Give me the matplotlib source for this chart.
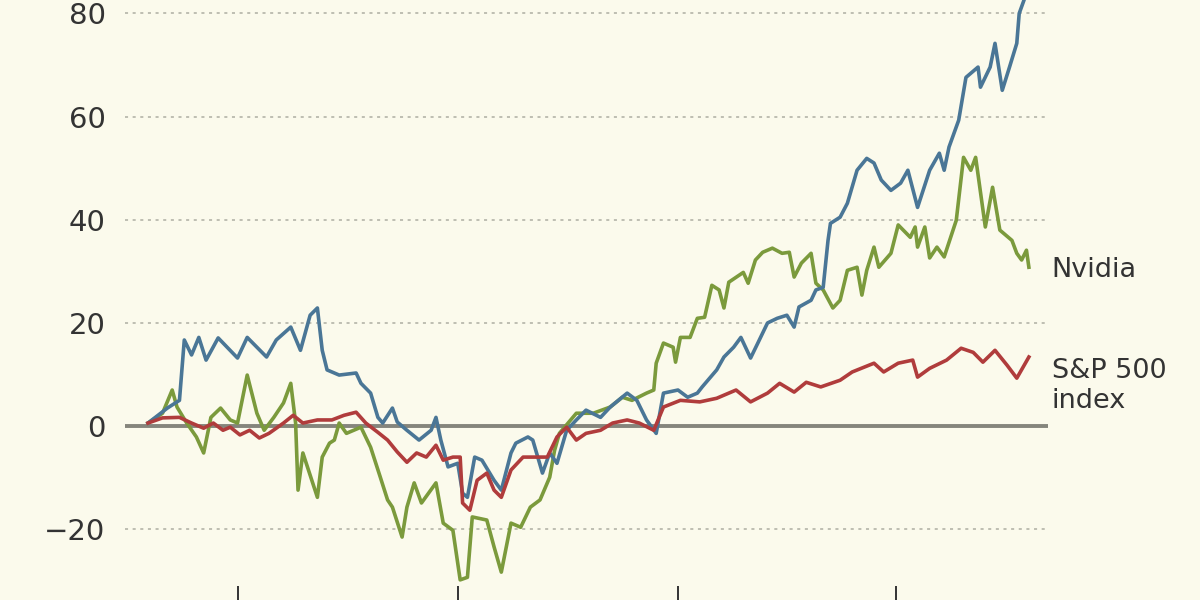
import matplotlib
matplotlib.use("Agg")
import matplotlib.pyplot as plt

# days since start of the period, % change
blue_days = [0, 8, 13, 15, 18, 21, 24, 29, 37, 41, 49, 53, 59, 63, 67, 70, 72, 74,
             79, 86, 88, 92, 95, 97, 101, 103, 107, 112, 117, 119, 121, 124, 128,
             130, 132, 135, 138, 143, 146, 150, 152, 157, 159, 163, 166, 169, 173,
             177, 181, 187, 191, 198, 202, 206, 210, 213, 219, 223, 227, 229, 235,
             238, 242, 245, 249, 252, 256, 260, 264, 267, 269, 274, 276, 279, 281,
             282, 286, 289, 293, 297, 300, 303, 307, 311, 314, 318, 323, 327, 329,
             331, 335, 338, 343, 344, 348, 350, 353, 356, 359, 360, 362, 364]
blue_vals = [0.6, 3.5, 5.0, 16.7, 13.8, 17.2, 12.8, 17.1, 13.2, 17.2, 13.4, 16.7,
             19.2, 14.7, 21.5, 22.9, 14.7, 10.9, 9.9, 10.3, 8.3, 6.4, 1.7, 0.6, 3.5,
             0.8, -0.8, -2.7, -0.8, 1.7, -2.7, -7.9, -7.2, -13.0, -13.8, -6.0, -6.6,
             -10.5, -12.4, -5.2, -3.3, -2.1, -2.7, -9.1, -5.2, -7.2, -0.8, 1.2, 3.1,
             1.7, 3.7, 6.4, 5.0, 1.2, -1.4, 6.4, 7.0, 5.6, 6.4, 7.6, 10.9, 13.4, 15.3,
             17.2, 13.2, 16.1, 20.0, 20.9, 21.5, 19.2, 23.1, 24.4, 26.4, 26.9, 36.0,
             39.3, 40.5, 43.2, 49.6, 51.9, 51.0, 47.7, 45.7, 47.1, 49.6, 42.4, 49.6,
             52.9, 49.6, 54.1, 59.3, 67.6, 69.6, 65.7, 69.6, 74.2, 65.1, 69.6, 74.2,
             80.0, 82.6, 86.4]

nvidia_days = [0, 6, 10, 12, 16, 20, 23, 26, 30, 34, 37, 41, 45, 48, 52, 56, 59,
               61, 62, 64, 70, 72, 75, 77, 79, 82, 88, 92, 96, 99, 101, 105, 107,
               110, 113, 119, 122, 126, 129, 132, 134, 140, 143, 146, 150, 154, 158,
               162, 166, 168, 170, 177, 184, 191, 196, 200, 206, 209, 210, 213, 217,
               218, 220, 224, 227, 230, 233, 236, 238, 240, 246, 248, 251, 254, 258,
               262, 265, 267, 270, 274, 276, 279, 283, 286, 289, 293, 295, 297, 300,
               302, 307, 310, 315, 317, 318, 321, 323, 326, 329, 334, 337, 340, 342,
               346, 349, 352, 357, 359, 361, 363, 364]
nvidia_vals = [0.6, 2.5, 7.0, 3.7, 0.6, -2.1, -5.2, 1.7, 3.5, 1.2, 0.6, 9.9, 2.5,
               -0.8, 1.7, 4.5, 8.3, 0.6, -12.4, -5.2, -13.8, -6.0, -3.3, -2.7, 0.6,
               -1.4, -0.2, -4.1, -9.9, -14.3, -15.7, -21.5, -15.7, -11.0, -14.9,
               -11.0, -18.8, -20.2, -29.8, -29.3, -17.6, -18.2, -23.4, -28.3, -18.8,
               -19.6, -15.7, -14.3, -9.9, -4.7, -1.4, 2.5, 2.5, 3.7, 5.6, 5.0, 6.4,
               7.0, 12.2, 16.1, 15.3, 12.4, 17.2, 17.2, 20.9, 21.1, 27.3, 26.4, 22.9,
               27.9, 29.8, 27.7, 32.2, 33.7, 34.5, 33.5, 33.7, 28.9, 31.6, 33.5, 27.7,
               26.4, 22.9, 24.4, 30.2, 30.8, 25.4, 30.2, 34.7, 30.8, 33.5, 39.0, 36.6,
               38.6, 34.7, 38.6, 32.6, 34.7, 32.8, 39.9, 52.1, 49.6, 52.1, 38.6, 46.3,
               38.0, 36.0, 33.5, 32.2, 34.1, 30.8]

sp_days = [0, 6, 13, 18, 23, 27, 31, 34, 38, 42, 46, 50, 56, 60, 64, 70, 76, 81,
           86, 90, 95, 99, 103, 107, 111, 115, 119, 122, 126, 129, 130, 133, 136,
           140, 143, 146, 150, 155, 161, 165, 169, 173, 177, 181, 187, 192, 198,
           203, 209, 213, 220, 228, 235, 243, 249, 256, 261, 267, 272, 278, 286,
           291, 300, 304, 310, 316, 318, 323, 330, 336, 341, 345, 350, 355, 359, 364]
sp_vals = [0.6, 1.6, 1.7, 0.6, -0.4, 0.6, -0.8, -0.2, -1.7, -0.8, -2.3, -1.4, 0.6,
           2.1, 0.6, 1.2, 1.2, 2.1, 2.7, 0.6, -1.2, -2.7, -5.0, -7.0, -5.2, -6.0,
           -3.7, -6.6, -6.0, -6.0, -14.9, -16.3, -10.5, -9.1, -12.4, -13.8, -8.5,
           -6.0, -6.0, -6.0, -2.1, -0.2, -2.7, -1.4, -0.8, 0.6, 1.2, 0.6, -0.8, 3.7,
           5.0, 4.7, 5.4, 7.0, 4.7, 6.4, 8.3, 6.6, 8.5, 7.6, 8.9, 10.5, 12.2, 10.5,
           12.2, 12.8, 9.5, 11.2, 12.8, 15.1, 14.3, 12.4, 14.7, 11.8, 9.3, 13.4]

y_ticks = [-20, 0, 20, 40, 60, 80]
quarter_ticks = [37, 128, 219, 309]

bg = "#fbfaec"
fig = plt.figure(figsize=(12, 6), dpi=100, facecolor=bg)
ax = fig.add_axes([125 / 1200, 0, 923 / 1200, 1], facecolor=bg)

for y in y_ticks:
    if y == 0:
        ax.axhline(0, color="#85857c", lw=2.8, zorder=1)
    else:
        ax.axhline(y, color="#aeaea2", lw=1.1, ls=(0, (2, 3)), zorder=1)

ax.plot(blue_days, blue_vals, color="#4a7696", lw=2.6, zorder=3)
ax.plot(nvidia_days, nvidia_vals, color="#7b9a3c", lw=2.6, zorder=2)
ax.plot(sp_days, sp_vals, color="#b03c3c", lw=2.6, zorder=4)

ax.set_xlim(-9.5, 371.9)
ax.set_ylim(-33.7, 82.6)

for s in ax.spines.values():
    s.set_visible(False)

ax.set_yticks(y_ticks)
ax.set_yticklabels(["\u221220" if v < 0 else str(v) for v in y_ticks])
ax.tick_params(axis="y", length=0, pad=14, labelsize=21, labelcolor="#333333")
ax.set_xticks(quarter_ticks)
ax.set_xticklabels([])
ax.tick_params(axis="x", direction="in", length=10, width=1.4, color="#333333")

ax.text(373.5, 30.2, "Nvidia", fontsize=19.5, color="#333333", va="center",
        ha="left", clip_on=False)
ax.text(373.5, 7.8, "S&P 500\nindex", fontsize=19.5, color="#333333", va="center",
        ha="left", linespacing=1.2, clip_on=False)

fig.savefig("out.png", dpi=100, facecolor=bg)
